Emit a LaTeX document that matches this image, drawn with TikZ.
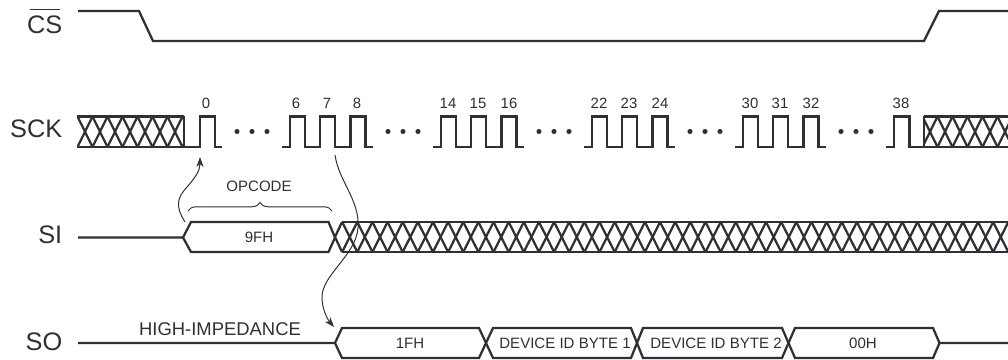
\documentclass[tikz,border=0pt]{standalone}
\usepackage{fontspec}
\setmainfont{Liberation Sans}
\usetikzlibrary{arrows.meta,decorations.pathreplacing}
\definecolor{sigdark}{HTML}{2E3036}
\tikzset{
  sigline/.style={draw=sigdark, line width=1.6pt, line join=miter},
  thinline/.style={draw=sigdark, line width=0.7pt},
  pinlabel/.style={font=\fontsize{18}{20}\selectfont, text=sigdark, anchor=base east, inner sep=0pt},
  ticklabel/.style={font=\fontsize{10.6}{12}\selectfont, text=sigdark, anchor=base, inner sep=0pt},
  buslabel/.style={font=\fontsize{10.7}{12}\selectfont, text=sigdark, anchor=base, inner sep=0pt},
  dotmark/.style={circle, fill=sigdark, inner sep=0pt, minimum size=3.6pt},
}
% crossed bus: x from, x to, first cell, cell width, top, bottom
\newcommand{\hatchbus}[6]{
  \begin{scope}
    \clip (#1,#5-2) rectangle (#2,#6+2);
    \foreach \k in {0,...,46} {
      \draw[sigline] ({#3+\k*#4},#5) -- ({#3+(\k+1)*#4},#6);
      \draw[sigline] ({#3+\k*#4},#6) -- ({#3+(\k+1)*#4},#5);
    }
  \end{scope}
  \draw[sigline] (#1,#5) -- (#2,#5);
  \draw[sigline] (#1,#6) -- (#2,#6);
}
\begin{document}
\begin{tikzpicture}[x=0.025cm, y=-0.025cm]
  \useasboundingbox (0,0) rectangle (1008,360);
  % pin names
  \node[pinlabel] (cs) at (62.5,34) {\rlap{\kern2.2pt\raisebox{16.8pt}{\rule{21.5pt}{0.7pt}}}CS};
  \node[pinlabel] (sck) at (62.5,138) {SCK};
  \node[pinlabel] (si) at (62.5,244) {SI};
  \node[pinlabel] (so) at (62.5,350) {SO};
  % chip select
  \draw[sigline] (78,11) -- (139,11) -- (153,41) -- (924,41) -- (939,11) -- (1008,11);
  % clock
  \hatchbus{77}{184}{77.5}{15}{116.5}{147}
  \draw[sigline] (184,116.5) -- (184,147);
  \hatchbus{924}{1008}{922.5}{15}{116.5}{147}
  \draw[sigline] (924,116.5) -- (924,147);
  \draw[sigline] (184,147) -- (200,147) -- (200,116.5) -- (215,116.5) -- (215,147) -- (222,147);
  \foreach \x in {290,441,592,743} {
    \draw[sigline] (\x-8,147) -- (\x,147)
      \foreach \p in {0,1,2} { -- ({\x+\p*30.2},147) -- ({\x+\p*30.2},116.5) -- ({\x+\p*30.2+15},116.5) -- ({\x+\p*30.2+15},147) }
      -- ({\x+2*30.2+23},147);
  }
  \draw[sigline] (886,147) -- (894,147) -- (894,116.5) -- (909.5,116.5) -- (909.5,147) -- (924,147);
  \foreach \x in {237,388,539,690,841} {
    \node[dotmark] (dot\x a) at (\x,131.5) {};
    \node[dotmark] (dot\x b) at (\x+15,131.5) {};
    \node[dotmark] (dot\x c) at (\x+30,131.5) {};
  }
  \foreach \x/\t in {206/0, 296/6, 327/7, 357/8, 448/14, 478/15, 509/16, 599/22, 629/23, 660/24, 750/30, 780/31, 811/32, 901/38} {
    \node[ticklabel] (tick\t) at (\x,109) {\t};
  }
  % serial in
  \draw[sigline] (78,237.5) -- (183,237.5) -- (191,222) -- (328.5,222) -- (335,237.5) -- (328.5,252) -- (191,252) -- (183,237.5);
  \hatchbus{342}{1008}{327}{15.14}{222}{252}
  \draw[sigline] (335,237) -- (342,222);
  \draw[sigline] (335,237) -- (342,252);
  \node[buslabel] (opcodeval) at (259,243) {9FH};
  \draw[thinline, decorate, decoration={brace, amplitude=6pt}] (188,211) -- (332,211);
  \node[buslabel] (opcode) at (259,192) {OPCODE};
  % serial out
  \draw[sigline] (78,343) -- (335,343) -- (342,328) -- (479,328) -- (493,358) -- (631,358) -- (643,328) -- (782,328) -- (795,358) -- (933,358) -- (939.5,343) -- (1008,343);
  \draw[sigline] (335,343) -- (342,358) -- (479,358) -- (493,328) -- (631,328) -- (643,358) -- (782,358) -- (795,328) -- (933,328) -- (939.5,343);
  \node[buslabel] (byteA) at (410,349) {1FH};
  \node[buslabel] (byteB) at (565,349) {DEVICE ID BYTE 1};
  \node[buslabel] (byteC) at (716,349) {DEVICE ID BYTE 2};
  \node[buslabel] (byteD) at (863,349) {00H};
  \node[font=\fontsize{13.1}{15}\selectfont, text=sigdark, anchor=base, inner sep=0pt] (hiz) at (220,335) {HIGH-IMPEDANCE};
  % timing arrows
  \coordinate (startA) at (185,222);
  \coordinate (endA) at (200,157);
  \coordinate (startB) at (335,155);
  \coordinate (endB) at (334,327);
  \draw[thinline, -{Stealth[length=7pt, width=5pt, inset=2pt]}] (startA) .. controls (175,206) and (177,198) .. (187,187) .. controls (196,177) and (200,170) .. (endA);
  \draw[thinline, -{Stealth[length=7pt, width=5pt, inset=2pt]}] (startB) .. controls (339,182) and (360,200) .. (358,228) .. controls (356,255) and (322,275) .. (322,297) .. controls (322,310) and (328,320) .. (endB);
\end{tikzpicture}
\end{document}
